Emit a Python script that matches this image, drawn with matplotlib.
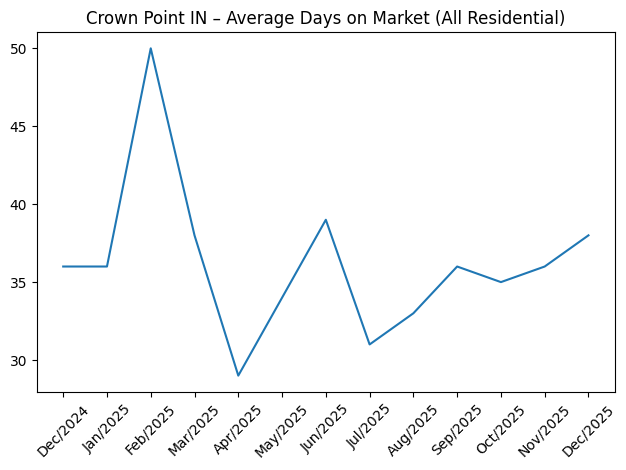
import matplotlib
matplotlib.use("Agg")
import matplotlib.pyplot as plt

months = ['Dec/2024', 'Jan/2025', 'Feb/2025', 'Mar/2025', 'Apr/2025', 'May/2025',
          'Jun/2025', 'Jul/2025', 'Aug/2025', 'Sep/2025', 'Oct/2025', 'Nov/2025', 'Dec/2025']
avg_dom = [36, 36, 50, 38, 29, 34, 39, 31, 33, 36, 35, 36, 38]

fig, ax = plt.subplots(figsize=(6.26, 4.7), dpi=100)
ax.plot(months, avg_dom)
ax.set_title('Crown Point IN – Average Days on Market (All Residential)')
ax.tick_params(axis='x', rotation=45)
fig.subplots_adjust(left=0.059, right=0.982, bottom=0.166, top=0.932)
fig.savefig('out.png')
